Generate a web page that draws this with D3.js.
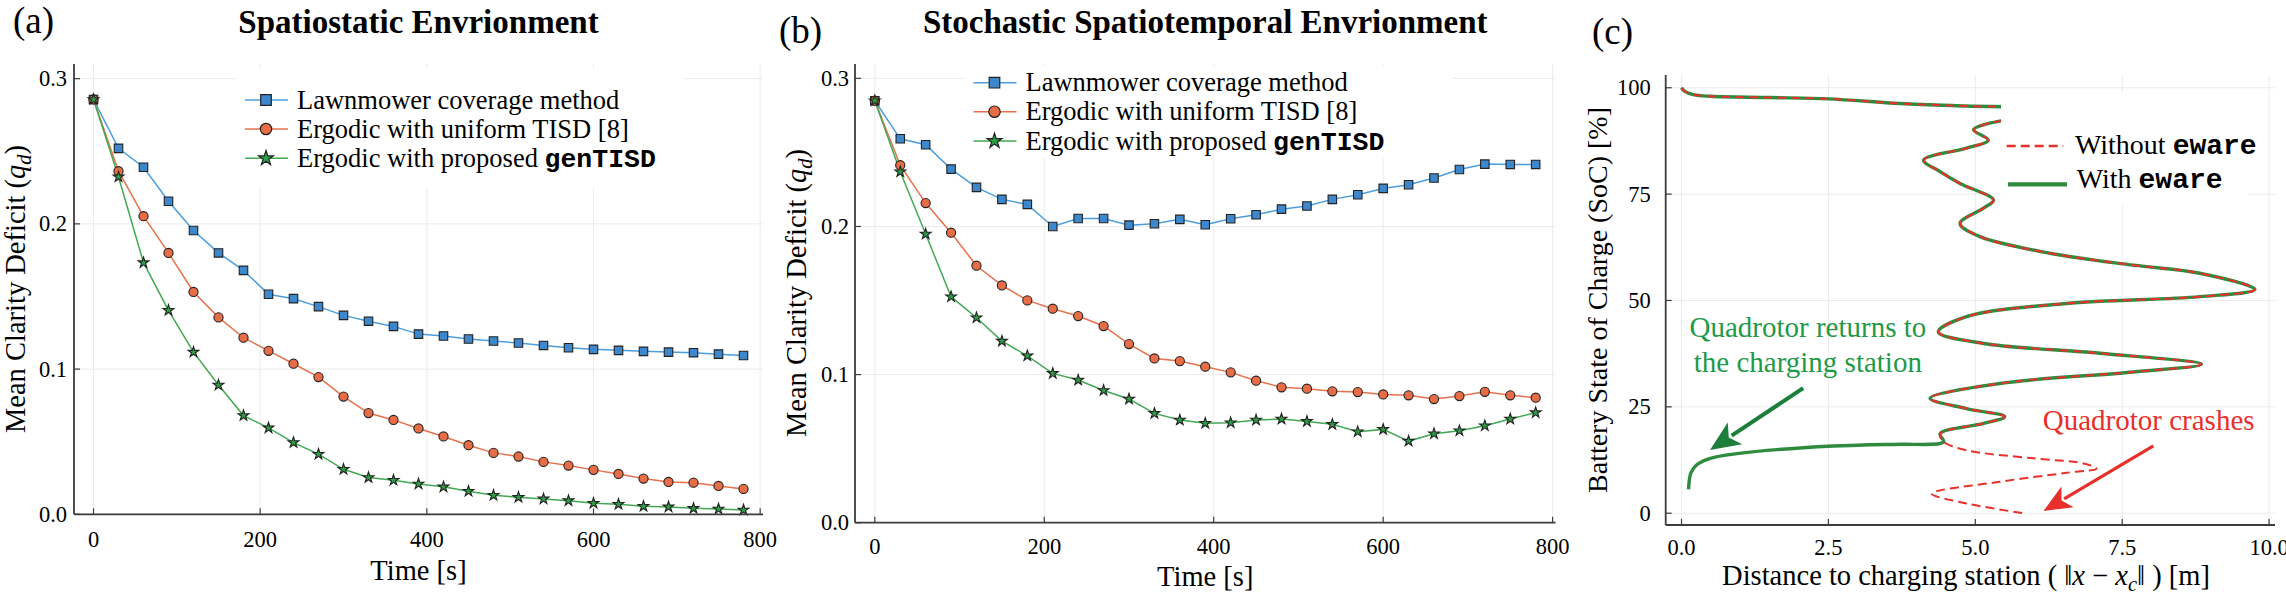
<!DOCTYPE html>
<html><head><meta charset="utf-8">
<script src="https://cdn.jsdelivr.net/npm/d3@7"></script>
<style>body{margin:0;background:#fff} svg{display:block}</style>
</head><body>
<svg id="chart" width="2286" height="595"></svg>
<script>
// ---------------- DATA ----------------
const times = [0,30,60,90,120,150,180,210,240,270,300,330,360,390,420,450,480,510,540,570,600,630,660,690,720,750,780];

// Panel (a): Spatiostatic environment
const lawnA = [0.2857,0.2520,0.2390,0.2156,0.1954,0.1800,0.1680,0.1515,0.1485,0.1430,0.1370,0.1330,0.1294,0.1241,0.1228,0.1207,0.1193,0.1180,0.1163,0.1147,0.1136,0.1129,0.1122,0.1117,0.1113,0.1103,0.1094];
const uniA  = [0.2857,0.2363,0.2053,0.1800,0.1531,0.1356,0.1216,0.1126,0.1037,0.0945,0.0811,0.0697,0.0650,0.0591,0.0536,0.0476,0.0423,0.0398,0.0361,0.0336,0.0306,0.0278,0.0246,0.0223,0.0218,0.0195,0.0175];
const genA  = [0.2857,0.2324,0.1733,0.1405,0.1117,0.0890,0.0680,0.0595,0.0494,0.0414,0.0310,0.0253,0.0235,0.0209,0.0189,0.0159,0.0131,0.0117,0.0106,0.0094,0.0076,0.0069,0.0055,0.0051,0.0041,0.0037,0.0030];

// Panel (b): Stochastic spatiotemporal environment
const lawnB = [0.2849,0.2592,0.2552,0.2387,0.2264,0.2183,0.2149,0.2000,0.2054,0.2054,0.2009,0.2018,0.2048,0.2012,0.2052,0.2079,0.2117,0.2138,0.2183,0.2214,0.2257,0.2282,0.2327,0.2385,0.2421,0.2419,0.2419];
const uniB  = [0.2849,0.2414,0.2158,0.1958,0.1735,0.1602,0.1501,0.1445,0.1395,0.1328,0.1206,0.1109,0.1091,0.1053,0.1015,0.0959,0.0914,0.0905,0.0887,0.0882,0.0866,0.0860,0.0835,0.0855,0.0884,0.0860,0.0844];
const genB  = [0.2849,0.2369,0.1949,0.1526,0.1384,0.1226,0.1127,0.1008,0.0963,0.0893,0.0835,0.0738,0.0693,0.0671,0.0675,0.0693,0.0700,0.0684,0.0664,0.0614,0.0630,0.0551,0.0601,0.0621,0.0655,0.0700,0.0743];

const xTicksAB = [0,200,400,600,800];
const yTicksAB = [0.0,0.1,0.2,0.3];

// Panel (c): distance to charging station vs battery SoC
const commonDist = [0.00,0.05,0.20,0.50,1.50,2.50,3.72,4.85,5.99,6.27,5.87,5.14,4.97,5.22,4.85,4.12,4.40,4.74,5.31,5.14,4.74,5.08,6.27,7.69,8.82,9.76,8.82,6.55,4.85,4.37,5.14,7.12,8.85,7.69,5.42,4.23,4.85,5.50,5.14,4.40,4.46];
const commonSoC  = [100.0,99.2,98.4,98.0,97.7,97.4,96.3,95.7,95.2,94.2,93.2,91.3,90.1,87.7,85.8,83.0,80.3,77.5,73.6,71.7,68.1,65.0,61.1,58.3,56.4,52.6,50.9,49.3,46.2,42.6,39.9,37.6,35.0,33.2,30.5,27.0,24.6,22.7,21.1,18.7,16.8];
const crashDist = [4.85,5.99,6.84,7.06,6.55,5.42,4.26,4.85,5.82];
const crashSoC  = [14.8,12.9,11.7,10.5,9.5,7.4,4.6,2.3,0.0];
const returnDist = [3.72,3.21,2.07,0.94,0.49,0.26,0.16,0.12];
const returnSoC  = [16.2,16.1,15.4,14.0,12.9,11.4,9.5,5.6];

const xTicksC = [0,2.5,5,7.5,10];
const yTicksC = [0,25,50,75,100];

const legendAB = ["Lawnmower coverage method","Ergodic with uniform TISD [8]","Ergodic with proposed "];
const legendABbold = ["","","genTISD"];

// ---------------- STYLE ----------------
const SERIF = "'Liberation Serif','Times New Roman',Times,serif";
const MONO = "'Liberation Mono','Courier New',monospace";
const series = [
  {line:"#4a9ee0", fill:"#3d87cc", sym:d3.symbolSquare, size:72},
  {line:"#e8714c", fill:"#e66d45", sym:d3.symbolCircle, size:66},
  {line:"#43a853", fill:"#2d9e43", sym:d3.symbolStar, size:36}
];

const svg = d3.select("#chart");

function txt(g, x, y, segs, size, opts={}) {
  const t = g.append("text").attr("x", x).attr("y", y)
    .attr("font-family", SERIF).attr("font-size", size).attr("fill", opts.fill||"#000")
    .attr("text-anchor", opts.anchor||"start");
  if (opts.transform) t.attr("transform", opts.transform).attr("x",0).attr("y",0);
  if (opts.weight) t.attr("font-weight", opts.weight);
  segs.forEach(s => {
    if (typeof s === "string") s = {t:s};
    const ts = t.append("tspan").text(s.t);
    if (s.mono) ts.attr("font-family", MONO).attr("font-weight","bold");
    if (s.it) ts.attr("font-style","italic");
    if (s.sub) ts.attr("font-size", size*0.72).attr("dy", size*0.22);
    if (s.up) ts.attr("dy", -size*0.22);
  });
  return t;
}

function makePanel(box, xdom, ydom) {
  return {box,
    x: d3.scaleLinear().domain(xdom).range([box.l, box.r]),
    y: d3.scaleLinear().domain(ydom).range([box.b, box.t])};
}

function drawFrame(p, xt, yt) {
  const g = svg.append("g");
  const {box,x,y} = p;
  g.selectAll(".gx").data(xt).enter().append("line")
    .attr("x1", d=>x(d)).attr("x2", d=>x(d)).attr("y1", box.t).attr("y2", box.b)
    .attr("stroke", "#ebebeb").attr("stroke-width", 1);
  g.selectAll(".gy").data(yt).enter().append("line")
    .attr("x1", box.l).attr("x2", box.r).attr("y1", d=>y(d)).attr("y2", d=>y(d))
    .attr("stroke", "#ebebeb").attr("stroke-width", 1);
  return g;
}
function drawAxes(p, xt, yt, fx, fy, o) {
  const g = svg.append("g");
  const {box,x,y} = p;
  g.append("line").attr("x1",box.l).attr("x2",box.l).attr("y1",box.t).attr("y2",box.b)
    .attr("stroke","#3c3c3c").attr("stroke-width",1.8);
  g.append("line").attr("x1",box.l).attr("x2",box.r).attr("y1",box.b).attr("y2",box.b)
    .attr("stroke","#3c3c3c").attr("stroke-width",1.8);
  g.selectAll(".tx").data(xt).enter().append("line")
    .attr("x1", d=>x(d)).attr("x2", d=>x(d)).attr("y1", box.b).attr("y2", box.b-6)
    .attr("stroke","#3c3c3c").attr("stroke-width",1.2);
  g.selectAll(".ty").data(yt).enter().append("line")
    .attr("x1", box.l).attr("x2", box.l+6).attr("y1", d=>y(d)).attr("y2", d=>y(d))
    .attr("stroke","#3c3c3c").attr("stroke-width",1.2);
  g.selectAll(".lx").data(xt).enter().append("text")
    .attr("x", d=>x(d)).attr("y", box.b + o.xlab).attr("text-anchor","middle")
    .attr("font-family", SERIF).attr("font-size", 22.5).text(fx);
  g.selectAll(".ly").data(yt).enter().append("text")
    .attr("x", box.l - o.ygap).attr("y", d=>y(d)+7.6).attr("text-anchor","end")
    .attr("font-family", SERIF).attr("font-size", 22.5).text(fy);
}

function drawSeries(p, vals, s) {
  const line = d3.line().x((d,i)=>p.x(times[i])).y(d=>p.y(d));
  svg.append("path").datum(vals).attr("d", line).attr("fill","none")
    .attr("stroke", s.line).attr("stroke-width", 1.5);
}
function drawMarkers(p, vals, s) {
  svg.append("g").selectAll("path").data(vals).enter().append("path")
    .attr("d", d3.symbol().type(s.sym).size(s.size))
    .attr("transform", (d,i)=>`translate(${p.x(times[i])},${p.y(d)})`)
    .attr("fill", s.fill).attr("stroke", "#222").attr("stroke-width", 1.1);
}

function drawLegendAB(lx, rowY, box) {
  const g = svg.append("g");
  g.append("rect").attr("x", box[0]).attr("y", box[1]).attr("width", box[2]-box[0]).attr("height", box[3]-box[1]).attr("fill","#fff");
  series.forEach((s,i) => {
    const yy = rowY[i];
    g.append("line").attr("x1", lx).attr("x2", lx+43).attr("y1", yy).attr("y2", yy)
      .attr("stroke", s.line).attr("stroke-width", 1.6);
    g.append("path").attr("d", d3.symbol().type(s.sym).size(s.size*(i==2?1.9:1.55)))
      .attr("transform", `translate(${lx+21},${yy})`).attr("fill", s.fill).attr("stroke","#222").attr("stroke-width",1.2);
    const segs = [legendAB[i]];
    if (legendABbold[i]) segs.push({t:legendABbold[i], mono:true});
    txt(g, lx+52, yy+8.5, segs, 26.5);
  });
}

// ---------------- PANEL A ----------------
const pA = makePanel({l:74, r:763, t:64, b:514.3}, [-23.4, 803.4], [0, 0.3101]);
drawFrame(pA, xTicksAB, yTicksAB);
drawLegendAB(245, [100, 129, 158.3], [236, 68, 684, 188]);
[lawnA, uniA, genA].forEach((v,i)=>drawSeries(pA, v, series[i]));
[lawnA, uniA, genA].forEach((v,i)=>drawMarkers(pA, v, series[i]));
drawAxes(pA, xTicksAB, yTicksAB, d3.format("d"), d3.format(".1f"), {xlab:33, ygap:7});

// ---------------- PANEL B ----------------
const pB = makePanel({l:855, r:1555.5, t:64, b:522.7}, [-23.4, 803.4], [0, 0.3097]);
drawFrame(pB, xTicksAB, yTicksAB);
drawLegendAB(973.5, [82.7, 111.7, 141], [965, 66, 1452, 158]);
[lawnB, uniB, genB].forEach((v,i)=>drawSeries(pB, v, series[i]));
[lawnB, uniB, genB].forEach((v,i)=>drawMarkers(pB, v, series[i]));
drawAxes(pB, xTicksAB, yTicksAB, d3.format("d"), d3.format(".1f"), {xlab:31, ygap:6});

// ---------------- PANEL C ----------------
const pC = makePanel({l:1665.7, r:2275, t:75, b:525}, [-0.269, 10.1], [-2.77, 103.0]);
drawFrame(pC, xTicksC, yTicksC);
{
  const g = svg.append("g");
  const curve = d3.line().x(d=>pC.x(d[0])).y(d=>pC.y(d[1])).curve(d3.curveCatmullRom.alpha(0.5));
  const common = commonDist.map((d,i)=>[d, commonSoC[i]]);
  const ret = common.concat(returnDist.map((d,i)=>[d, returnSoC[i]]));
  const crash = common.concat(crashDist.map((d,i)=>[d, crashSoC[i]]));
  g.append("path").datum(ret).attr("d", curve).attr("fill","none")
    .attr("stroke","#2e8b3e").attr("stroke-width",3.4).attr("stroke-linejoin","round");
  g.append("path").datum(crash).attr("d", curve).attr("fill","none")
    .attr("stroke","#e8312a").attr("stroke-width",2.0).attr("stroke-dasharray","9,5");

  // legend
  g.append("rect").attr("x",2001).attr("y",92).attr("width",247).attr("height",113).attr("fill","#fff");
  g.append("line").attr("x1",2006.7).attr("x2",2063.3).attr("y1",146).attr("y2",146)
    .attr("stroke","#e8312a").attr("stroke-width",2.6).attr("stroke-dasharray","9,5");
  txt(g, 2075, 154, ["Without ", {t:"eware", mono:true}], 28);
  g.append("line").attr("x1",2008).attr("x2",2067).attr("y1",184.3).attr("y2",184.3)
    .attr("stroke","#2e8b3e").attr("stroke-width",4.3);
  txt(g, 2076.7, 188, ["With ", {t:"eware", mono:true}], 28);

  // annotations
  txt(g, pC.x(2.15), pC.y(41.5), ["Quadrotor returns to"], 29, {anchor:"middle", fill:"#1f9a48"});
  txt(g, pC.x(2.15), pC.y(33.3), ["the charging station"], 29, {anchor:"middle", fill:"#1f9a48"});
  txt(g, pC.x(7.95), pC.y(19.6), ["Quadrotor crashes"], 29, {anchor:"middle", fill:"#e8302a"});

  function arrow(x0,y0,x1,y1,color,w,hl,hw) {
    const X0=pC.x(x0), Y0=pC.y(y0), X1=pC.x(x1), Y1=pC.y(y1);
    const dx=X1-X0, dy=Y1-Y0, L=Math.hypot(dx,dy), ux=dx/L, uy=dy/L;
    const bx=X1-ux*hl, by=Y1-uy*hl;
    g.append("line").attr("x1",X0).attr("y1",Y0).attr("x2",bx+ux*4).attr("y2",by+uy*4)
      .attr("stroke",color).attr("stroke-width",w);
    g.append("path").attr("d",`M${X1},${Y1}L${bx-uy*hw},${by+ux*hw}L${bx+ux*hl*0.25},${by+uy*hl*0.25}L${bx+uy*hw},${by-ux*hw}Z`)
      .attr("fill",color);
  }
  arrow(2.07, 29.4, 0.485, 14.85, "#1b7f3a", 4, 30, 13);
  arrow(8.03, 15.8, 6.16, 0.5, "#e8302a", 3.2, 28, 12);
}
drawAxes(pC, xTicksC, yTicksC, d3.format(".1f"), d3.format("d"), {xlab:30, ygap:15});

// ---------------- TITLES & LABELS ----------------
txt(svg, 13, 32.6, ["(a)"], 37);
txt(svg, 779, 43, ["(b)"], 37);
txt(svg, 1592, 44, ["(c)"], 37);
txt(svg, (74+763)/2, 33, ["Spatiostatic Envrionment"], 33, {anchor:"middle", weight:"bold"});
txt(svg, (855+1555.5)/2, 33, ["Stochastic Spatiotemporal Envrionment"], 33, {anchor:"middle", weight:"bold"});

const ylabAB = ["Mean Clarity Deficit (", {t:"q", it:true}, {t:"d", it:true, sub:true}, {t:")", up:true}];
txt(svg, 0, 0, ylabAB, 28.5, {anchor:"middle", transform:"translate(25,289) rotate(-90)"});
txt(svg, 0, 0, ylabAB, 28.5, {anchor:"middle", transform:"translate(806,293) rotate(-90)"});
txt(svg, 0, 0, ["Battery State of Charge (SoC) [%]"], 28, {anchor:"middle", transform:"translate(1607,300) rotate(-90)"});

txt(svg, (74+763)/2, 580, ["Time [s]"], 28.5, {anchor:"middle"});
txt(svg, (855+1555.5)/2, 586, ["Time [s]"], 28.5, {anchor:"middle"});
txt(svg, 1966, 585, ["Distance to charging station ( \u2016", {t:"x", it:true}, " \u2212 ", {t:"x", it:true}, {t:"c", it:true, sub:true}, {t:"\u2016 ) [m]", up:true}], 28.5, {anchor:"middle"});
</script>
</body></html>
